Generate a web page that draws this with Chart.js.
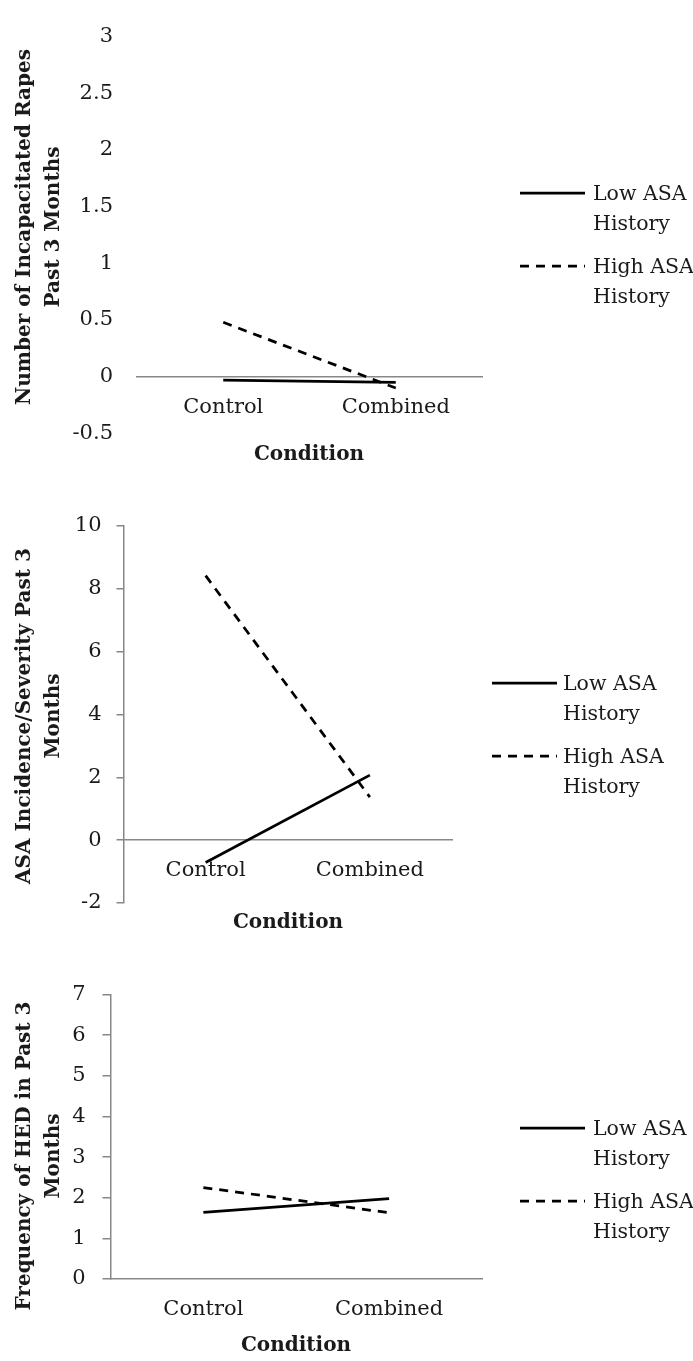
<!DOCTYPE html>
<html><head><meta charset="utf-8">
<script src="https://cdn.jsdelivr.net/npm/chart.js@4.4.1/dist/chart.umd.min.js"></script>
<style>
html,body{margin:0;padding:0;background:#fff;}
body{width:693px;height:1361px;position:relative;overflow:hidden;}
canvas{position:absolute;left:0;display:block;}
</style></head><body>
<canvas id="c1" width="693" height="470" style="top:0px"></canvas>
<canvas id="c2" width="693" height="470" style="top:470px"></canvas>
<canvas id="c3" width="693" height="421" style="top:940px"></canvas>
<script>
// ---- data ----
const categories = ['Control', 'Combined'];
const seriesNames = [['Low ASA', 'History'], ['High ASA', 'History']];

const rapesLow  = [-0.03, -0.05];
const rapesHigh = [0.48, -0.10];
const rapesTicks = {min: -0.5, max: 3, step: 0.5};

const asaLow  = [-0.71, 2.07];
const asaHigh = [8.42, 1.37];
const asaTicks = {min: -2, max: 10, step: 2};

const hedLow  = [1.64, 1.98];
const hedHigh = [2.25, 1.63];
const hedTicks = {min: 0, max: 7, step: 1};

const yTitles = [
  ['Number of Incapacitated Rapes', 'Past 3 Months'],
  ['ASA Incidence/Severity Past 3', 'Months'],
  ['Frequency of HED in Past 3', 'Months']
];
const xTitle = 'Condition';

// ---- style ----
const FONT = "'DejaVu Serif', serif";
const TXT = '#1a1a1a';
const AX = '#878787';
const DASH = [9, 7];

const decor = {
  id: 'decor',
  afterDraw(chart, args, o) {
    const ctx = chart.ctx;
    ctx.save();
    ctx.fillStyle = TXT;
    // y title (rotated)
    ctx.font = 'bold ' + o.yFont + 'px ' + FONT;
    ctx.textAlign = 'center';
    ctx.textBaseline = 'middle';
    o.yTitle.forEach((line, i) => {
      ctx.save();
      ctx.translate(o.yTitleX[i], o.yTitleCy);
      ctx.rotate(-Math.PI / 2);
      ctx.fillText(line, 0, 0);
      ctx.restore();
    });
    // x title
    ctx.font = 'bold ' + o.xFont + 'px ' + FONT;
    ctx.fillText(xTitle, o.xTitleX, o.xTitleY);
    // legend
    ctx.font = '20.5px ' + FONT;
    ctx.textAlign = 'left';
    chart.data.datasets.forEach((ds, i) => {
      const y = o.legY + i * o.legGap;
      ctx.save();
      ctx.strokeStyle = ds.borderColor;
      ctx.lineWidth = ds.borderWidth;
      ctx.setLineDash(ds.borderDash || []);
      ctx.beginPath();
      ctx.moveTo(o.legX0, y);
      ctx.lineTo(o.legX1, y);
      ctx.stroke();
      ctx.restore();
      seriesNames[i].forEach((t, j) => {
        ctx.fillText(t, o.legTx, y + 2 + j * 30);
      });
    });
    ctx.restore();
  }
};

function makeChart(id, low, high, tk, p) {
  return new Chart(document.getElementById(id), {
    type: 'line',
    data: {
      labels: categories,
      datasets: [
        {label: seriesNames[0].join(' '), data: low, borderColor: '#000', borderWidth: 2.75,
         pointRadius: 0, pointHoverRadius: 0, fill: false, tension: 0},
        {label: seriesNames[1].join(' '), data: high, borderColor: '#000', borderWidth: 2.75,
         borderDash: DASH, pointRadius: 0, pointHoverRadius: 0, fill: false, tension: 0}
      ]
    },
    options: {
      responsive: false,
      animation: false,
      events: [],
      layout: {padding: {left: 0, right: 693 - p.right, top: p.top, bottom: p.bottom}},
      plugins: {legend: {display: false}, tooltip: {enabled: false}, title: {display: false},
        decor: p.decor},
      scales: {
        x: {
          type: 'category',
          offset: true,
          position: {y: 0},
          grid: {display: false, drawTicks: false},
          border: {display: true, color: AX, width: 1.5},
          ticks: {color: TXT, font: {family: FONT, size: 21}, padding: 18, maxRotation: 0, autoSkip: false}
        },
        y: {
          min: tk.min, max: tk.max,
          afterFit(s) { s.width = p.left; },
          grid: {display: p.yTick > 0, drawOnChartArea: false, drawTicks: true, tickLength: p.yTick, color: AX, lineWidth: 1.5},
          border: {display: p.yBorder, color: AX, width: 1.5},
          ticks: {stepSize: tk.step, color: TXT, font: {family: FONT, size: 21}, padding: p.yPad,
            callback: v => String(v)}
        }
      }
    },
    plugins: [decor]
  });
}

makeChart('c1', rapesLow, rapesHigh, rapesTicks, {
  left: 137, right: 482, top: 18, bottom: 470 - 437, yTick: 0, yBorder: false, yPad: 24,
  decor: {yTitle: yTitles[0], yFont: 20, yTitleX: [25, 54], yTitleCy: 227, xFont: 20,
    xTitleX: 309, xTitleY: 455, legX0: 520, legX1: 585, legTx: 593, legY: 193, legGap: 73}
});
makeChart('c2', asaLow, asaHigh, asaTicks, {
  left: 123.5, right: 452, top: 56, bottom: 470 - 433, yTick: 7, yBorder: true, yPad: 15,
  decor: {yTitle: yTitles[1], yFont: 20, yTitleX: [25, 54], yTitleCy: 716 - 470, xFont: 20,
    xTitleX: 288, xTitleY: 923 - 470, legX0: 492, legX1: 557, legTx: 563, legY: 683 - 470, legGap: 73}
});
makeChart('c3', hedLow, hedHigh, hedTicks, {
  left: 110.5, right: 482, top: 54.5, bottom: 421 - 339, yTick: 8, yBorder: true, yPad: 17,
  decor: {yTitle: yTitles[2], yFont: 20, yTitleX: [25, 54], yTitleCy: 1156 - 940, xFont: 20,
    xTitleX: 296, xTitleY: 1346 - 940, legX0: 520, legX1: 585, legTx: 593, legY: 1128 - 940, legGap: 73}
});
</script>
</body></html>
